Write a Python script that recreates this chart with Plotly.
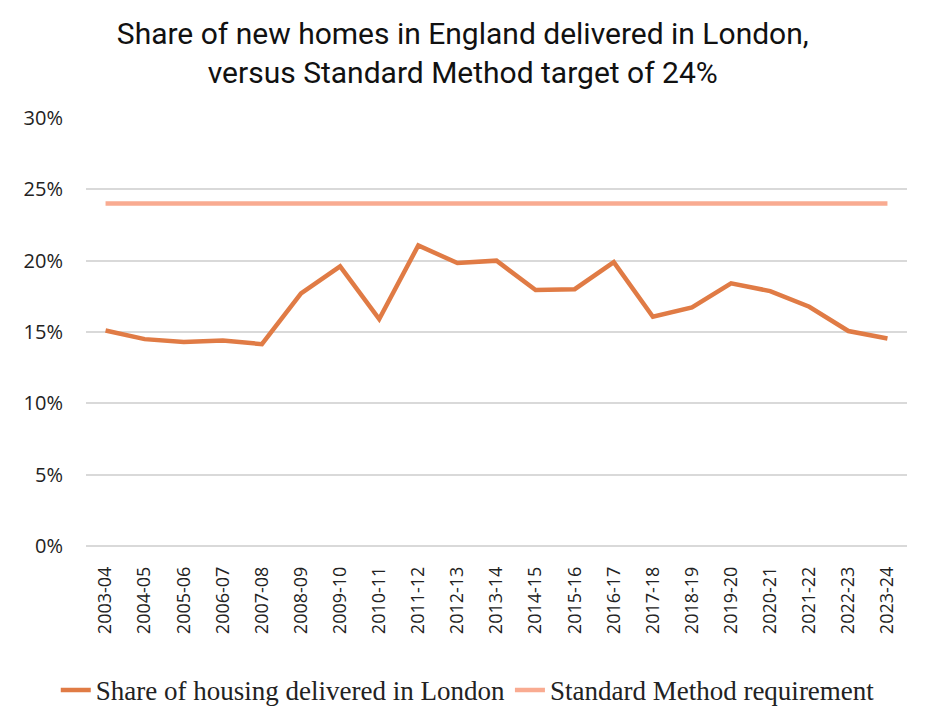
import plotly.graph_objects as go

years = ["2003-04", "2004-05", "2005-06", "2006-07", "2007-08", "2008-09", "2009-10",
         "2010-11", "2011-12", "2012-13", "2013-14", "2014-15", "2015-16", "2016-17",
         "2017-18", "2018-19", "2019-20", "2020-21", "2021-22", "2022-23", "2023-24"]
london_share = [15.1, 14.5, 14.3, 14.4, 14.15, 17.7, 19.6, 15.9, 21.07, 19.83, 20.0,
                17.94, 18.0, 19.9, 16.07, 16.73, 18.41, 17.87, 16.77, 15.07, 14.55]
standard_method = [24.0] * len(years)
y_ticks = [0, 5, 10, 15, 20, 25, 30]
y_tick_labels = ["0%", "5%", "10%", "15%", "20%", "25%", "30%"]

fig = go.Figure()
fig.add_trace(go.Scatter(
    x=years, y=london_share, mode="lines", name="Share of housing delivered in London",
    line=dict(color="#E07B45", width=4.5, shape="linear"),
))
fig.add_trace(go.Scatter(
    x=years, y=standard_method, mode="lines", name="Standard Method requirement",
    line=dict(color="#F9AB91", width=4.5),
))

fig.update_layout(
    width=930, height=725,
    paper_bgcolor="white", plot_bgcolor="white",
    margin=dict(l=78, r=31, t=110, b=187, autoexpand=False),
    title=dict(
        text="Share of new homes in England delivered in London,<br>versus Standard Method target of 24%",
        x=0.489, xanchor="center", y=0.951, yanchor="top",
        font=dict(family="Roboto, sans-serif", size=30, color="#111111"),
    ),
    showlegend=True,
    legend=dict(
        orientation="h", x=0.465, xanchor="center", y=-0.28, yanchor="top",
        font=dict(family="Liberation Serif, serif", size=27, color="#222222"),
        tracegroupgap=0,
    ),
    xaxis=dict(
        type="category", range=[-0.5, 20.5],
        tickangle=-90, showgrid=False, showline=False, ticks="",
        tickfont=dict(family="Open Sans, sans-serif", size=18, color="#222222"),
        ticklabelstandoff=16,
    ),
    yaxis=dict(
        range=[0, 30], tickvals=y_ticks, ticktext=y_tick_labels,
        showgrid=True, gridcolor="#D9D9D9", gridwidth=1.5,
        zeroline=True, zerolinecolor="#D9D9D9", zerolinewidth=1.5,
        showline=False, ticks="",
        tickfont=dict(family="Open Sans, sans-serif", size=20, color="#222222"),
        ticklabelstandoff=22,
    ),
)

fig.write_html("out.html")
